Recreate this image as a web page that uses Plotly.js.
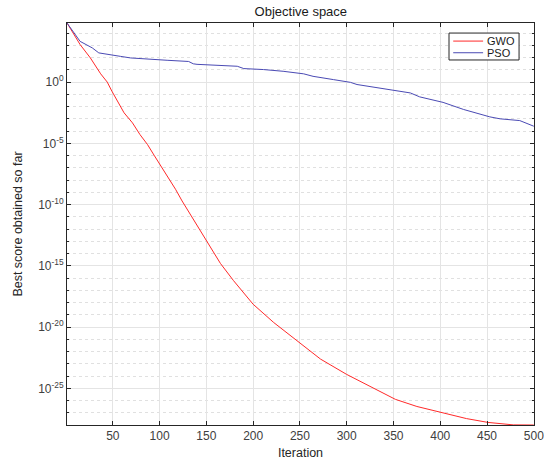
<!DOCTYPE html>
<html>
<head>
<meta charset="utf-8">
<script src="https://cdn.plot.ly/plotly-3.0.1.min.js"></script>
<style>
  html, body { margin: 0; padding: 0; background: #ffffff; }
  #chart { width: 544px; height: 460px; }
</style>
</head>
<body>
<div id="chart"></div>
<script>
// Data
var gwoIter = [1, 15, 26, 37, 44, 49, 62, 71, 79, 87, 94, 108, 117, 124, 140, 151, 165, 179, 200, 222, 250, 272, 300, 325, 352, 375, 401, 428, 451, 478, 500];
var gwoScore = [6.6e4, 1.15e3, 93, 4.7, 1.0, 0.18, 3.1e-3, 4.7e-4, 5.2e-5, 8.1e-6, 1.1e-6, 2.5e-8, 1.8e-9, 2.0e-10, 2.0e-12, 7.9e-14, 1.6e-15, 6.3e-17, 7.4e-19, 2.4e-20, 5.0e-22, 2.5e-23, 1.4e-24, 1.4e-25, 1.3e-26, 3.4e-27, 1.1e-27, 3.5e-28, 1.7e-28, 1.07e-28, 1.05e-28];

var psoIter = [1, 10, 15, 28, 35, 58, 69, 108, 131, 136, 140, 183, 190, 211, 232, 254, 264, 286, 304, 311, 350, 368, 378, 403, 425, 453, 464, 485, 500];
var psoScore = [6.6e4, 7.4e3, 2.1e3, 617, 240, 126, 93, 60, 48, 31, 28, 19.5, 12.6, 10.5, 7.6, 4.7, 2.95, 1.58, 0.95, 0.63, 0.21, 0.13, 0.062, 0.022, 5.8e-3, 1.45e-3, 1.0e-3, 7.2e-4, 2.5e-4];

var seriesNames = ["GWO", "PSO"];
var seriesColors = ["#ff2a2a", "#4a4ab4"];
var xTickVals = [50, 100, 150, 200, 250, 300, 350, 400, 450, 500];
var yTickExps = [0, -5, -10, -15, -20, -25];
var yMinorExps = [4, 3, 2, 1, -1, -2, -3, -4, -6, -7, -8, -9, -11, -12, -13, -14, -16, -17, -18, -19, -21, -22, -23, -24, -26, -27];

var yTickVals = yTickExps.map(function (e) { return Math.pow(10, e); });
var yTickText = yTickExps.map(function (e) { return "10<sup>" + e + "</sup>"; });
var yMinorVals = yMinorExps.map(function (e) { return Math.pow(10, e); });

var FONT = "Liberation Sans, Arial, sans-serif";

var traces = [
  { x: gwoIter, y: gwoScore, name: seriesNames[0], type: "scatter", mode: "lines",
    line: { color: seriesColors[0], width: 1 }, showlegend: false, cliponaxis: false },
  { x: psoIter, y: psoScore, name: seriesNames[1], type: "scatter", mode: "lines",
    line: { color: seriesColors[1], width: 1 }, showlegend: false }
];

var axisCommon = {
  showline: true, linecolor: "#262626", linewidth: 1, mirror: "ticks",
  ticks: "inside", ticklen: 4, tickcolor: "#262626", tickwidth: 1,
  gridcolor: "#e4e4e4", gridwidth: 1, zeroline: false,
  ticklabeloverflow: "allow",
  tickfont: { family: FONT, size: 12, color: "#404040" }
};

// Legend (box, line samples, labels) in paper coordinates
var legBox = { x0: 0.818, x1: 0.968, y0: 0.908, y1: 0.975 };
var legRows = [0.955, 0.926];
var shapes = [
  { type: "rect", xref: "paper", yref: "paper", x0: legBox.x0, x1: legBox.x1, y0: legBox.y0, y1: legBox.y1,
    line: { color: "#262626", width: 1 }, fillcolor: "#ffffff", layer: "above" }
];
var annotations = [];
seriesNames.forEach(function (n, i) {
  shapes.push({ type: "line", xref: "paper", yref: "paper", x0: 0.827, x1: 0.891, y0: legRows[i], y1: legRows[i],
    line: { color: seriesColors[i], width: 1 }, layer: "above" });
  annotations.push({ xref: "paper", yref: "paper", x: 0.895, y: legRows[i], xanchor: "left", yanchor: "middle",
    text: n, showarrow: false, font: { family: FONT, size: 11, color: "#1a1a1a" } });
});

var layout = {
  width: 544, height: 460,
  margin: { l: 67, r: 10, t: 23, b: 35 },
  paper_bgcolor: "#ffffff", plot_bgcolor: "#ffffff",
  font: { family: FONT, size: 11, color: "#262626" },
  title: { text: "Objective space", x: 0.553, xanchor: "center", y: 0.976, yanchor: "middle",
           font: { family: FONT, size: 13, color: "#1a1a1a" } },
  xaxis: Object.assign({}, axisCommon, {
    range: [1, 500.2], tickvals: xTickVals, ticktext: xTickVals.map(String),
    title: { text: "Iteration", standoff: 6, font: { size: 12.5, color: "#262626" } }
  }),
  yaxis: Object.assign({}, axisCommon, {
    type: "log", range: [-27.98, 4.82],
    tickvals: yTickVals, ticktext: yTickText,
    minor: { tickvals: yMinorVals, showgrid: true, gridcolor: "#e0e0e0", griddash: "dot",
             ticks: "inside", ticklen: 2, tickcolor: "#262626" },
    title: { text: "Best score obtained so far", standoff: 12, font: { size: 12.5, color: "#262626" } }
  }),
  showlegend: false,
  shapes: shapes,
  annotations: annotations
};

Plotly.newPlot("chart", traces, layout, { displayModeBar: false, staticPlot: true });
</script>
</body>
</html>
